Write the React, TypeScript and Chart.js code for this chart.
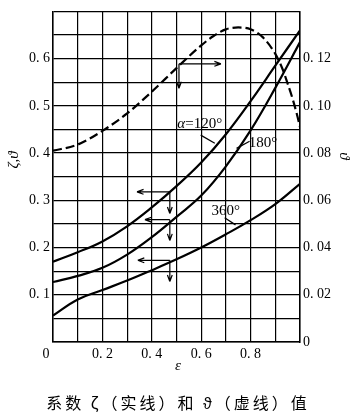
import React, { useEffect, useRef } from "react";
import { Chart, registerables } from "chart.js";

Chart.register(...registerables);

// ---- data ----
const epsilon = [0, 0.1, 0.2, 0.3, 0.4, 0.5, 0.6, 0.7, 0.8, 0.9, 1.0];
const zeta120 = [0.17, 0.19, 0.213, 0.245, 0.285, 0.33, 0.38, 0.44, 0.51, 0.585, 0.66];
const zeta180 = [0.127, 0.14, 0.157, 0.185, 0.222, 0.265, 0.31, 0.372, 0.448, 0.538, 0.635];
const zeta360 = [0.056, 0.09, 0.11, 0.13, 0.152, 0.175, 0.2, 0.228, 0.258, 0.292, 0.335];

const thetaEps = [0, 0.1, 0.2, 0.3, 0.4, 0.5, 0.6, 0.65, 0.7, 0.75, 0.8, 0.85, 0.9, 0.93, 0.95, 0.97, 0.99, 1.0];
const theta = [0.081, 0.0836, 0.0894, 0.0968, 0.106, 0.116, 0.1256, 0.1296, 0.1324, 0.1332, 0.1324, 0.129, 0.122, 0.1154, 0.1094, 0.103, 0.0954, 0.091];

const xTickLabels = ["0", "0. 2", "0. 4", "0. 6", "0. 8"];
const leftTickLabels = ["0. 1", "0. 2", "0. 3", "0. 4", "0. 5", "0. 6"];
const rightTickLabels = ["0", "0. 02", "0. 04", "0. 06", "0. 08", "0. 10", "0. 12"];

// annotation geometry (data coordinates: [epsilon, zeta])
const arrows: [number, number, number, number][] = [
  [0.51, 0.589, 0.68, 0.589],
  [0.51, 0.589, 0.51, 0.537],
  [0.473, 0.318, 0.34, 0.318],
  [0.473, 0.318, 0.473, 0.272],
  [0.473, 0.259, 0.372, 0.259],
  [0.473, 0.259, 0.473, 0.215],
  [0.473, 0.173, 0.343, 0.173],
  [0.473, 0.173, 0.473, 0.128],
];
const leaders: [number, number, number, number][] = [
  [0.598, 0.438, 0.655, 0.421],
  [0.796, 0.425, 0.743, 0.41],
  [0.695, 0.263, 0.739, 0.248],
];

const SERIF = '"Liberation Serif", "DejaVu Serif", serif';
const CJK = '"Noto Sans CJK SC", sans-serif';

const pts = (xs: number[], ys: number[]) => xs.map((x, i) => ({ x, y: ys[i] }));

const overlay = {
  id: "overlay",
  afterDatasetsDraw(chart: any) {
    const { ctx, scales } = chart;
    const X = (v: number) => scales.x.getPixelForValue(v);
    const Y = (v: number) => scales.y.getPixelForValue(v);
    ctx.save();
    ctx.strokeStyle = "#000";
    ctx.fillStyle = "#000";
    ctx.lineWidth = 1.2;
    for (const [a, b, c, d] of arrows) {
      const x1 = X(a), y1 = Y(b), x2 = X(c), y2 = Y(d);
      ctx.beginPath();
      ctx.moveTo(x1, y1);
      ctx.lineTo(x2, y2);
      const ang = Math.atan2(y2 - y1, x2 - x1);
      const L = 7, w = 0.35;
      ctx.moveTo(x2, y2);
      ctx.lineTo(x2 - L * Math.cos(ang - w), y2 - L * Math.sin(ang - w));
      ctx.moveTo(x2, y2);
      ctx.lineTo(x2 - L * Math.cos(ang + w), y2 - L * Math.sin(ang + w));
      ctx.stroke();
    }
    for (const [a, b, c, d] of leaders) {
      ctx.beginPath();
      ctx.moveTo(X(a), Y(b));
      ctx.lineTo(X(c), Y(d));
      ctx.stroke();
    }
    ctx.textBaseline = "middle";
    const drawMixed = (parts: [string, boolean][], cx: number, cy: number, size: number) => {
      let total = 0;
      for (const [t, it] of parts) {
        ctx.font = `${it ? "italic " : ""}${size}px ${SERIF}`;
        total += ctx.measureText(t).width;
      }
      let x = cx - total / 2;
      ctx.textAlign = "left";
      for (const [t, it] of parts) {
        ctx.font = `${it ? "italic " : ""}${size}px ${SERIF}`;
        ctx.fillText(t, x, cy);
        x += ctx.measureText(t).width;
      }
    };
    drawMixed([["α", true], ["=120°", false]], X(0.594), Y(0.461), 15);
    drawMixed([["180°", false]], X(0.85), Y(0.421), 15);
    drawMixed([["360°", false]], X(0.699), Y(0.278), 15);

    ctx.textAlign = "center";
    ctx.font = `italic 15px ${SERIF}`;
    ctx.fillText("ε", 178, 366);
    ctx.save();
    ctx.translate(14, 160);
    ctx.rotate(-Math.PI / 2);
    ctx.fillText("ζ,ϑ", 0, 0);
    ctx.restore();
    ctx.save();
    ctx.translate(344, 156);
    ctx.rotate(Math.PI / 2);
    ctx.fillText("ϑ", 0, 0);
    ctx.restore();

    ctx.font = `16px ${CJK}`;
    (ctx as any).letterSpacing = "3px";
    ctx.fillText("系数 ζ（实线）和 ϑ（虚线）值", 178, 403);
    ctx.restore();
  },
};

export default function App() {
  const ref = useRef<HTMLCanvasElement | null>(null);
  useEffect(() => {
    if (!ref.current) return;
    const tickFont = { family: SERIF, size: 14 };
    const grid = { color: "#000", lineWidth: 1.2, drawTicks: false };
    const border = { display: true, color: "#000", width: 1.5 };
    const solid = { yAxisID: "y", borderColor: "#000", borderWidth: 2.2, pointRadius: 0, tension: 0.4, fill: false };
    const chart = new Chart(ref.current, {
      type: "line",
      data: {
        datasets: [
          { ...solid, data: pts(epsilon, zeta120) },
          { ...solid, data: pts(epsilon, zeta180) },
          { ...solid, data: pts(epsilon, zeta360) },
          { data: pts(thetaEps, theta), yAxisID: "y2", borderColor: "#000", borderWidth: 2.2, borderDash: [9, 4], pointRadius: 0, cubicInterpolationMode: "monotone", fill: false },
        ],
      },
      options: {
        animation: false,
        responsive: false,
        maintainAspectRatio: false,
        layout: { padding: { top: 9, left: 0, right: 0, bottom: 0 } },
        plugins: { legend: { display: false }, tooltip: { enabled: false }, title: { display: false } },
        scales: {
          x: {
            type: "linear",
            min: 0,
            max: 1,
            grid,
            border,
            afterFit: (s: any) => { s.height = 75; },
            ticks: {
              stepSize: 0.1,
              autoSkip: false,
              maxRotation: 0,
              padding: 4,
              color: "#000",
              font: tickFont,
              callback: (v: any) => {
                const r = Math.round(Number(v) * 10);
                if (r % 2 === 0 && r < 10) {
                  const s = xTickLabels[r / 2];
                  return r === 0 ? s + "\u2002\u2002" : s;
                }
                return "";
              },
            },
          },
          y: {
            type: "linear",
            position: "left",
            min: 0,
            max: 0.7,
            grid,
            border,
            afterFit: (s: any) => { s.width = 53; },
            ticks: {
              stepSize: 0.05,
              autoSkip: false,
              padding: 3,
              color: "#000",
              font: tickFont,
              callback: (v: any) => {
                const r = Math.round(Number(v) * 100);
                if (r % 10 === 0 && r > 0 && r < 70) return leftTickLabels[r / 10 - 1];
                return "";
              },
            },
          },
          y2: {
            type: "linear",
            position: "right",
            min: 0,
            max: 0.14,
            grid: { display: false, drawTicks: false },
            border,
            afterFit: (s: any) => { s.width = 64; },
            ticks: {
              stepSize: 0.01,
              autoSkip: false,
              padding: 3,
              color: "#000",
              font: tickFont,
              callback: (v: any) => {
                const r = Math.round(Number(v) * 100);
                if (r % 2 === 0 && r < 14) return rightTickLabels[r / 2];
                return "";
              },
            },
          },
        },
      },
      plugins: [overlay],
    } as any);
    return () => chart.destroy();
  }, []);
  return (
    <div style={{ position: "absolute", left: 0, top: 0, width: 364, height: 417, background: "#fff" }}>
      <canvas ref={ref} width={364} height={417} style={{ display: "block" }} />
    </div>
  );
}
